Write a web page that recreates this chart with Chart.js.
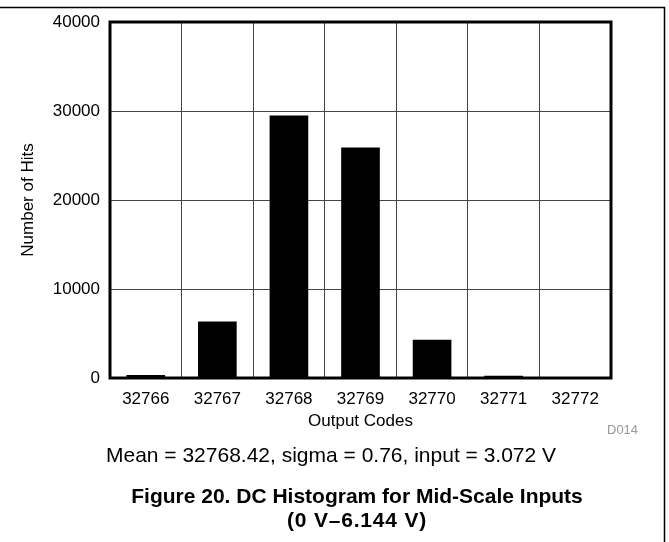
<!DOCTYPE html>
<html>
<head>
<meta charset="utf-8">
<script src="https://cdn.jsdelivr.net/npm/chart.js@4.4.1/dist/chart.umd.min.js"></script>
<style>
html,body{margin:0;padding:0;background:#fff;}
#wrap{width:669px;height:542px;position:relative;}
</style>
</head>
<body>
<div id="wrap"><canvas id="c" width="669" height="542"></canvas></div>
<script>
const categories = ['32766','32767','32768','32769','32770','32771','32772'];
const hits = [350, 6350, 29500, 25900, 4300, 250, 0];
const yTicks = [0, 10000, 20000, 30000, 40000];
const xTitle = 'Output Codes';
const yTitle = 'Number of Hits';
const noteText = 'Mean = 32768.42, sigma = 0.76, input = 3.072 V';
const figTitle = ['Figure 20. DC Histogram for Mid-Scale Inputs', '(0 V\u20136.144 V)'];
const docId = 'D014';

const FONT = "'Liberation Sans', Arial, Helvetica, sans-serif";

const extras = {
  id: 'extras',
  beforeDraw(chart) {
    const ctx = chart.ctx;
    ctx.save();
    ctx.fillStyle = '#fff';
    ctx.fillRect(0, 0, chart.width, chart.height);
    ctx.restore();
  },
  afterDraw(chart) {
    const ctx = chart.ctx;
    const a = chart.chartArea;
    ctx.save();
    // plot frame
    ctx.strokeStyle = '#000';
    ctx.lineWidth = 3;
    ctx.strokeRect(a.left, a.top, a.right - a.left, a.bottom - a.top);
    // outer figure frame (top and right)
    ctx.lineWidth = 1.5;
    ctx.beginPath();
    ctx.moveTo(0, 7.5);
    ctx.lineTo(664.5, 7.5);
    ctx.lineTo(664.5, chart.height);
    ctx.stroke();
    // doc id
    ctx.fillStyle = '#999';
    ctx.font = '13px ' + FONT;
    ctx.textAlign = 'left';
    ctx.textBaseline = 'middle';
    ctx.fillText(docId, 607, 430);
    // note
    ctx.fillStyle = '#000';
    ctx.font = '21px ' + FONT;
    ctx.textAlign = 'center';
    ctx.fillText(noteText, 331, 456);
    // figure title
    ctx.font = 'bold 21px ' + FONT;
    ctx.fillText(figTitle[0], 357, 497);
    if ('letterSpacing' in ctx) ctx.letterSpacing = '0.8px';
    ctx.fillText(figTitle[1], 357, 521);
    ctx.restore();
  }
};

new Chart(document.getElementById('c'), {
  type: 'bar',
  data: {
    labels: categories,
    datasets: [{
      data: hits,
      backgroundColor: '#000',
      borderWidth: 0,
      barPercentage: 0.54,
      categoryPercentage: 1.0
    }]
  },
  options: {
    responsive: false,
    animation: false,
    devicePixelRatio: 1,
    layout: { padding: { left: 8, right: 58, top: 22, bottom: 110 } },
    plugins: { legend: { display: false }, tooltip: { enabled: false }, title: { display: false } },
    scales: {
      x: {
        grid: { offset: true, color: '#444', lineWidth: 1, drawTicks: false },
        border: { display: false },
        ticks: { color: '#000', font: { family: FONT, size: 17 }, padding: 11, maxRotation: 0 },
        title: { display: true, text: xTitle, color: '#000', font: { family: FONT, size: 17 }, padding: 0 },
        afterFit(scale) { scale.height = 54; }
      },
      y: {
        min: 0, max: 40000,
        afterBuildTicks(scale) { scale.ticks = yTicks.map(v => ({ value: v })); },
        grid: { color: '#444', lineWidth: 1, drawTicks: false },
        border: { display: false },
        ticks: { color: '#000', font: { family: FONT, size: 17 }, padding: 10, callback: v => String(v) },
        title: { display: true, text: yTitle, color: '#000', font: { family: FONT, size: 17 }, padding: 10 },
        afterFit(scale) { scale.width = 102; }
      }
    }
  },
  plugins: [extras]
});
</script>
</body>
</html>
